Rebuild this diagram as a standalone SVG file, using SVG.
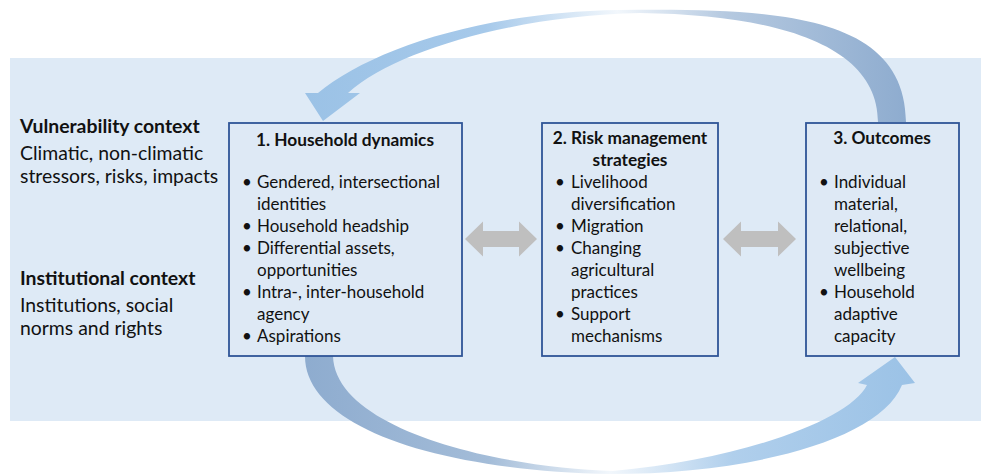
<svg xmlns="http://www.w3.org/2000/svg" width="981" height="475" viewBox="0 0 981 475">
<defs>
<style>
text{font-family:Lato,"Open Sans","Liberation Sans",sans-serif;fill:#111;}
.t{font-size:17px;}
.b{font-weight:bold;}
.h{font-size:17.3px;font-weight:bold;text-anchor:middle;}
.ctx{font-size:19.4px;}
.box{fill:#dee9f5;stroke:#2f5597;stroke-width:1.8;}
.dbl{fill:#bfbfbf;}
</style>
<linearGradient id="gTop" gradientUnits="userSpaceOnUse" x1="305" y1="0" x2="906" y2="0">
<stop offset="0" stop-color="#9bc2e6"/>
<stop offset="0.3" stop-color="#a6c9ea"/>
<stop offset="0.52" stop-color="#f2f7fc"/>
<stop offset="0.7" stop-color="#b5c9e0"/>
<stop offset="1" stop-color="#8eaccf"/>
</linearGradient>
<linearGradient id="gBot" gradientUnits="userSpaceOnUse" x1="305" y1="0" x2="915" y2="0">
<stop offset="0" stop-color="#8eaccf"/>
<stop offset="0.3" stop-color="#a3bcd8"/>
<stop offset="0.5" stop-color="#f2f7fc"/>
<stop offset="0.7" stop-color="#b0cfec"/>
<stop offset="1" stop-color="#9bc2e6"/>
</linearGradient>
</defs>
<rect width="981" height="475" fill="#ffffff"/>
<rect x="10" y="58" width="971" height="363" fill="#deeaf6"/>

<g id="connectors">
<path fill="url(#gTop)" d="M318,93 C370,50 480,12 620,10 C780,8 905,15 906,122 L878,122 C878,50 790,15 640,13 C520,15 395,50 348,93 L360,93 L323,121 L305,93 Z"/>
<path fill="url(#gBot)" d="M305,356 C305,425 430,470 610,474 C750,474 880,440 902,385 L915,383 L895,357 L858,383 L867,385 C850,420 740,460 613,471 C500,468 335,430 333,356 Z"/>
<polygon class="dbl" points="465,239 483,221.5 483,231 519,231 519,221.5 537,239 519,256.5 519,247 483,247 483,256.5"/>
<polygon class="dbl" points="723,239 741,221.5 741,231 778,231 778,221.5 796,239 778,256.5 778,247 741,247 741,256.5"/>
</g>

<g id="vulnerability-context">
<text class="ctx b" x="20" y="133">Vulnerability context</text>
<text class="ctx" x="20" y="160">Climatic, non-climatic</text>
<text class="ctx" x="20" y="183">stressors, risks, impacts</text>
</g>

<g id="institutional-context">
<text class="ctx b" x="20" y="285">Institutional context</text>
<text class="ctx" x="20" y="312">Institutions, social</text>
<text class="ctx" x="20" y="335">norms and rights</text>
</g>

<g id="household-dynamics">
<rect class="box" x="229" y="123" width="233" height="233"/>
<text class="h" x="345" y="146">1. Household dynamics</text>
<text class="t" x="242" y="188">•</text><text class="t" x="257" y="188">Gendered, intersectional</text>
<text class="t" x="257" y="210">identities</text>
<text class="t" x="242" y="232">•</text><text class="t" x="257" y="232">Household headship</text>
<text class="t" x="242" y="254">•</text><text class="t" x="257" y="254">Differential assets,</text>
<text class="t" x="257" y="276">opportunities</text>
<text class="t" x="242" y="298">•</text><text class="t" x="257" y="298">Intra-, inter-household</text>
<text class="t" x="257" y="320">agency</text>
<text class="t" x="242" y="342">•</text><text class="t" x="257" y="342">Aspirations</text>
</g>

<g id="risk-management">
<rect class="box" x="542" y="123" width="176" height="233"/>
<text class="h" x="630" y="144">2. Risk management</text>
<text class="h" x="630" y="166">strategies</text>
<text class="t" x="555" y="188">•</text><text class="t" x="571" y="188">Livelihood</text>
<text class="t" x="571" y="210">diversification</text>
<text class="t" x="555" y="232">•</text><text class="t" x="571" y="232">Migration</text>
<text class="t" x="555" y="254">•</text><text class="t" x="571" y="254">Changing</text>
<text class="t" x="571" y="276">agricultural</text>
<text class="t" x="571" y="298">practices</text>
<text class="t" x="555" y="320">•</text><text class="t" x="571" y="320">Support</text>
<text class="t" x="571" y="342">mechanisms</text>
</g>

<g id="outcomes">
<rect class="box" x="806" y="123" width="153" height="233"/>
<text class="h" x="882" y="144">3. Outcomes</text>
<text class="t" x="819" y="188">•</text><text class="t" x="834" y="188">Individual</text>
<text class="t" x="834" y="210">material,</text>
<text class="t" x="834" y="232">relational,</text>
<text class="t" x="834" y="254">subjective</text>
<text class="t" x="834" y="276">wellbeing</text>
<text class="t" x="819" y="298">•</text><text class="t" x="834" y="298">Household</text>
<text class="t" x="834" y="320">adaptive</text>
<text class="t" x="834" y="342">capacity</text>
</g>
</svg>
